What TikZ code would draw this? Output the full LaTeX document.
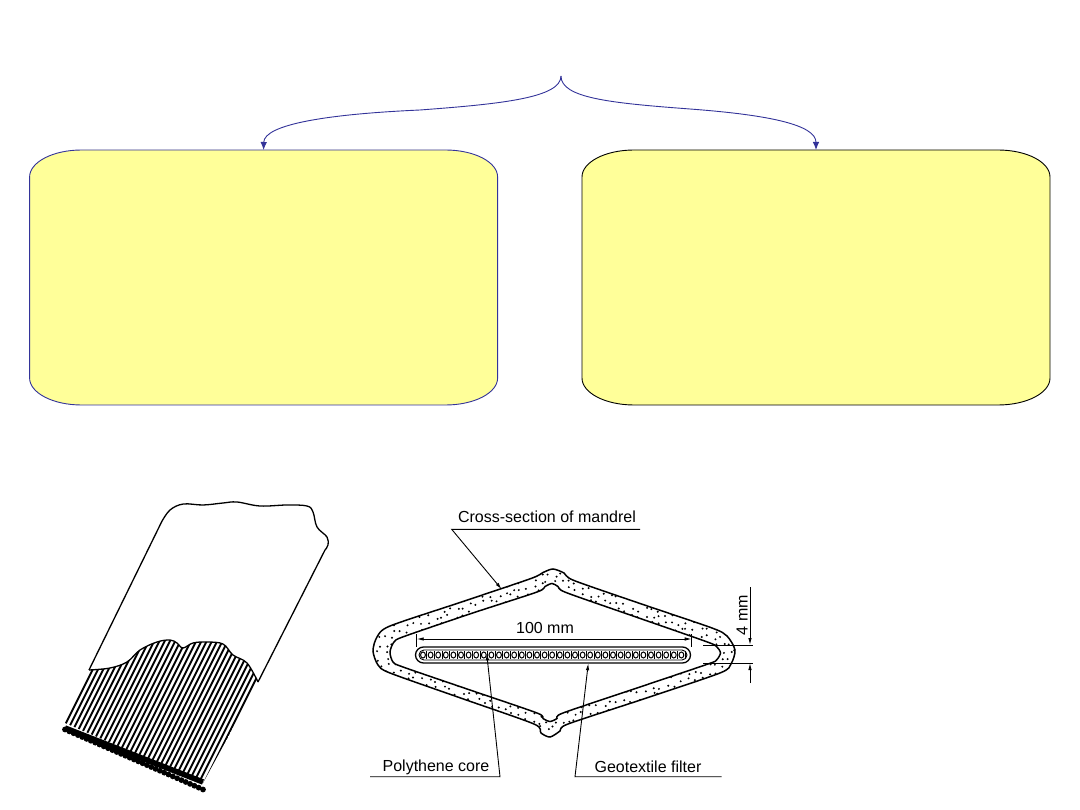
\documentclass[tikz,border=0pt]{standalone}
\usepackage{fontspec}
\setmainfont{Liberation Sans}
\usetikzlibrary{arrows.meta}
\definecolor{boxyellow}{HTML}{FFFF99}
\definecolor{boxblue}{HTML}{333399}
\tikzset{
  brace/.style={draw=boxblue, line width=0.9pt, -{Latex[length=8pt,width=6.5pt]}},
  leader/.style={line width=0.9pt, -{Latex[length=7pt,width=3.5pt]}},
  txt/.style={font=\fontsize{16}{18}\selectfont, inner sep=0pt},
  wall/.style={line width=1.5pt},
  panel/.style={minimum width=468pt, minimum height=255pt, inner sep=0pt, outer sep=0pt},
}
\newcommand\mandrelout{plot[smooth cycle, tension=0.45] coordinates {
  (373,651) (377,637) (390,626) (461.5,602) (531,578.5) (543,572.5) (553,569)
  (564,573) (574,580.5) (641.5,604) (712,628) (727,636) (735,650) (731,664)
  (720,673) (645,698.5) (568,724) (560,731) (550,737) (541,733) (534,724)
  (462,698.5) (390,673) (378,665)}}
\newcommand\mandrelin{plot[smooth cycle, tension=0.45] coordinates {
  (390,652) (394,642) (404,636.5) (472,613.25) (537,592) (545,586.5) (552,583.5)
  (558,586.5) (566,592.5) (634.5,616.5) (706,641.5) (716.5,646.5) (720.5,653)
  (716.5,660) (708,664) (635.5,688.5) (563,713) (557,718.5) (550,721.5)
  (543,718.5) (537,713) (470,690) (403,667) (393,662)}}
\begin{document}
\begin{tikzpicture}[x=1pt,y=-1pt]
  \useasboundingbox (0,0) rectangle (1080,810);
  % the two empty panels
  \node[panel] (lbox) at (263.6,277.5) {};
  \node[panel] (rbox) at (816,277.5) {};
  \foreach \b/\c in {lbox/boxblue, rbox/black}
    \draw[\c, fill=boxyellow, line width=0.9pt]
      ([xshift=52pt]\b.north west) -- ([xshift=-52pt]\b.north east)
      arc[start angle=90, end angle=0, x radius=52pt, y radius=27pt]
      -- ([yshift=27pt]\b.south east)
      arc[start angle=0, end angle=-90, x radius=52pt, y radius=27pt]
      -- ([xshift=52pt]\b.south west)
      arc[start angle=270, end angle=180, x radius=52pt, y radius=27pt]
      -- ([yshift=-27pt]\b.north west)
      arc[start angle=180, end angle=90, x radius=52pt, y radius=27pt]
      -- cycle;
  \coordinate (cusp) at (561,76);
  \draw[brace] (cusp) .. controls (561,98) and (500,104) .. (420,110)
    .. controls (330,114) and (264,124) .. (lbox.north);
  \draw[brace] (cusp) .. controls (561,98) and (610,103) .. (690,109)
    .. controls (770,115) and (816,125) .. (rbox.north);
  % fin drain strip
  \draw[line width=1.3pt, line join=round] (89,670) -- (161.7,521.7)
    -- plot[smooth, tension=0.6] coordinates {(161.7,521.7) (170,510) (183.3,504)
      (203,505) (223,503) (237,502) (260,506) (287,505) (307,506) (313,512)
      (317,527) (327,537) (328,545) (325,550)}
    -- (258,682);
  \draw[line width=1.3pt] plot[smooth, tension=0.6] coordinates {(89,670) (110,668)
    (127,662) (140,650) (157,642) (170,640) (177,643) (183,648) (193,643)
    (207,642) (223,644) (233,655) (247,663) (258,682)};
  \begin{scope}
    \clip plot[smooth, tension=0.6] coordinates {(89,670) (110,668) (127,662)
      (140,650) (157,642) (170,640) (177,643) (183,648) (193,643) (207,642)
      (223,644) (233,655) (247,663) (258,682)} -- (203,783) -- (65,723) -- cycle;
    \foreach \i in {0,...,32}
      \draw[line width=1.8pt] ({65+\i*138/32},{725+\i*60/32}) -- ++(75,-150);
  \end{scope}
  \draw[line width=5.5pt] (65,728) -- (203,782);
  \foreach \i in {0,...,32}
    \fill ({65+\i*138/32},{729.5+\i*60/32}) circle[radius=2.9pt];
  % mandrel cross-section
  \begin{scope}[even odd rule]
    \clip \mandrelout \mandrelin;
    \pgfmathsetseed{42}
    \foreach \u in {0,...,53}
      \foreach \v in {0,...,25}
        \fill ({370+7*\u+5*rnd},{565+7*\v+5*rnd}) circle[radius=1.1pt];
  \end{scope}
  \draw[wall] \mandrelout;
  \draw[wall] \mandrelin;
  \node[draw, line width=1.3pt, rounded corners=8pt, minimum width=275pt,
    minimum height=16pt, inner sep=0pt] (core) at (553,655) {};
  \node[draw, line width=0.9pt, rounded corners=5pt, minimum width=268pt,
    minimum height=10pt, inner sep=0pt] (corein) at (553,655) {};
  \foreach \k in {0,...,34} {
    \draw[line width=1pt] ({423+\k*7.6},655) circle[x radius=2.4pt, y radius=3pt];
    \draw[line width=1pt] ({426.8+\k*7.6},651) -- ({426.8+\k*7.6},659);
  }
  % labels and leaders
  \node[txt] (mandrel) at (547,517) {Cross-section of mandrel};
  \coordinate (m1) at (451.7,529.3);
  \coordinate (m2) at (640,529.3);
  \coordinate (mtip) at (501.7,589.3);
  \draw[leader] (m2) -- (m1) -- (mtip);
  \node[txt] (poly) at (436,767) {Polythene core};
  \coordinate (p1) at (370,776.7);
  \coordinate (p2) at (500,776.7);
  \coordinate (ptip) at (486.7,653.3);
  \draw[leader] (p1) -- (p2) -- (ptip);
  \node[txt] (geo) at (648,767) {Geotextile filter};
  \coordinate (g1) at (721.7,776.7);
  \coordinate (g2) at (575,776.7);
  \coordinate (gtip) at (588.3,663.3);
  \draw[leader] (g1) -- (g2) -- (gtip);
  % dimensions
  \node[txt] (len) at (545,628) {100 mm};
  \coordinate (la) at (416.7,639);
  \coordinate (lb) at (691.7,639);
  \draw[line width=0.9pt] (416.7,634) -- (416.7,647) (691.7,634) -- (691.7,647);
  \draw[line width=0.9pt, {Latex[length=7pt,width=3.5pt]}-{Latex[length=7pt,width=3.5pt]}] (la) -- (lb);
  \node[txt, rotate=90] (gap) at (742,615) {4 mm};
  \coordinate (ga) at (703,645);
  \coordinate (gb) at (703,663);
  \draw[line width=0.9pt] (ga) -- ++(50,0) (gb) -- ++(50,0);
  \coordinate (gtop) at (750,587);
  \coordinate (gbot) at (750,683);
  \draw[leader] (gtop) -- (750,645);
  \draw[leader] (gbot) -- (750,663);
\end{tikzpicture}
\end{document}
